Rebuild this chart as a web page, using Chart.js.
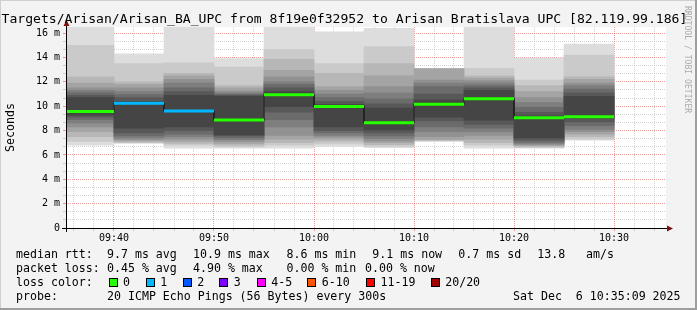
<!DOCTYPE html>
<html><head><meta charset="utf-8">
<script src="https://cdn.jsdelivr.net/npm/chart.js@4/dist/chart.umd.min.js"></script>
<style>html,body{margin:0;padding:0;background:#f3f3f3;overflow:hidden}canvas{display:block}</style>
</head><body>
<canvas id="c" width="697" height="310"></canvas>
<script>
// ---------- data ----------
const titleText = 'Targets/Arisan/Arisan_BA_UPC from 8f19e0f32952 to Arisan Bratislava UPC [82.119.99.186]';
const yAxisTitle = 'Seconds';
const watermark = 'RRDTOOL / TOBI OETIKER';
const slotStarts = ['09:35','09:40','09:45','09:50','09:55','10:00','10:05','10:10','10:15','10:20','10:25'];
const medianMs   = [9.57, 10.25, 9.6, 8.86, 10.93, 9.98, 8.64, 10.15, 10.6, 9.05, 9.13];
const lostPings  = [0, 1, 1, 0, 0, 0, 0, 0, 0, 0, 0];
// 20 sorted ping round-trip times (ms) for each 5-minute step
const ping0935 = [6.8,7.1,7.5,7.9,8.3,8.6,8.9,9.1,9.27,9.5,9.65,10.7,10.9,11.1,11.3,11.5,11.9,12.4,15.0,16.5];
const ping0940 = [6.95,7.0,7.05,7.15,7.25,7.4,7.55,7.8,8.2,10.2,10.3,10.4,10.7,10.95,11.2,11.5,11.8,12.0,13.5,14.3];
const ping0945 = [6.55,6.8,6.95,7.1,7.3,7.5,7.7,8.0,8.3,9.55,9.65,10.9,11.2,11.5,11.9,12.2,12.5,12.7,13.55,16.6];
const ping0950 = [6.55,6.65,6.8,6.95,7.1,7.25,7.4,7.55,7.65,8.8,8.92,10.8,10.9,11.0,11.1,11.25,11.5,11.7,13.2,13.9];
const ping0955 = [6.55,6.8,7.0,7.3,7.6,8.3,8.9,9.5,9.95,10.9,10.96,11.2,11.5,11.8,12.0,12.4,12.95,13.85,14.65,16.6];
const ping1000 = [6.7,6.9,7.1,7.3,7.45,7.6,7.8,8.0,8.3,9.95,10.0,10.15,10.4,10.7,11.0,11.3,11.6,12.7,13.5,16.1];
const ping1005 = [6.6,6.7,6.85,7.0,7.15,7.35,7.55,7.8,8.05,8.6,8.68,9.85,10.2,10.6,11.1,11.6,12.5,13.5,14.9,16.4];
const ping1010 = [7.1,7.15,7.2,7.25,7.5,7.9,8.3,8.8,9.1,10.1,10.2,10.5,11.0,11.6,11.9,12.15,13.05,13.1,13.1,13.1];
const ping1015 = [6.55,6.8,7.0,7.3,7.6,7.9,8.2,8.5,8.85,10.55,10.65,11.3,11.5,11.7,11.9,12.1,12.3,12.5,13.1,16.5];
const ping1020 = [6.55,6.6,6.7,6.75,6.85,6.95,7.05,7.2,7.4,9.0,9.1,9.2,9.5,9.9,10.3,10.7,11.2,11.7,12.15,13.95];
const ping1025 = [7.2,7.3,7.5,7.7,7.9,8.1,8.4,8.7,9.0,9.1,9.15,10.8,11.1,11.4,11.7,11.9,12.2,12.4,14.2,15.1];
const pingSlots = [ping0935,ping0940,ping0945,ping0950,ping0955,ping1000,ping1005,ping1010,ping1015,ping1020,ping1025];
const xTickLabels = ['09:40','09:50','10:00','10:10','10:20','10:30'];
const yTickLabels = ['0','2 m','4 m','6 m','8 m','10 m','12 m','14 m','16 m'];
const rttLabel = 'median rtt:';
const rttStats = ['9.7 ms avg','10.9 ms max','8.6 ms min','9.1 ms now','0.7 ms sd','13.8','am/s'];
const lossLabel = 'packet loss:';
const lossStats = ['0.45 % avg','4.90 % max','0.00 % min','0.00 % now'];
const colorLabel = 'loss color:';
const lossLabels = ['0','1','2','3','4-5','6-10','11-19','20/20'];
const lossColors = ['#26ff00','#00b8ff','#0059ff','#7e00ff','#ff00ff','#ff5500','#ff0000','#a10000'];
const probeLabel = 'probe:';
const probeText = '20 ICMP Echo Pings (56 Bytes) every 300s';
const stampText = 'Sat Dec  6 10:35:09 2025';

// ---------- helpers ----------
const MONO = '"DejaVu Sans Mono", monospace';
const toMin = s => { const [h, m] = s.split(':').map(Number); return (h - 9) * 60 + m; };
const lossClass = n => {
  for (let i = 0; i < lossLabels.length; i++) {
    const parts = lossLabels[i].split(/[-\/]/).map(Number);
    const lo = parts[0], hi = lossLabels[i].includes('-') ? parts[1] : parts[0];
    if (n >= lo && n <= hi) return i;
  }
  return 0;
};
const STEP = 5;
const majorX = xTickLabels.map(toMin);
const RED = 'rgba(222,60,60,0.5)';
const GRAY = 'rgba(140,140,140,0.38)';
const isMajorX = v => majorX.some(m => Math.abs(m - v) < 1e-6);
const xGridColor = c => (c && c.tick && isMajorX(c.tick.value)) ? RED : GRAY;
const yGridColor = c => (c && c.tick && typeof c.index === 'number' && c.index % 3 === 0) ? RED : GRAY;

// ---------- datasets ----------
const datasets = [];
const medPts = [];
slotStarts.forEach((s, k) => {
  medPts.push({x: toMin(s), y: medianMs[k]});
  medPts.push({x: toMin(s) + STEP, y: medianMs[k]});
});
datasets.push({
  type: 'line', order: 0, data: medPts, borderWidth: 3, pointRadius: 0, tension: 0,
  borderColor: lossColors[0], borderCapStyle: 'butt',
  segment: { borderColor: c => (c.p0DataIndex % 2 === 0) ? lossColors[lossClass(lostPings[c.p0DataIndex >> 1])] : 'rgba(0,0,0,0)' }
});
datasets.push({
  type: 'line', order: 1, data: medPts, borderWidth: 1, pointRadius: 0, tension: 0, borderColor: '#202020'
});
const half = 10;
for (let i = half; i >= 1; i--) {
  const g = Math.floor(190 / half * (half - i)) + 50;
  datasets.push({
    type: 'bar', order: 2 + (half - i), grouped: false, barThickness: 50, borderWidth: 0,
    backgroundColor: `rgb(${g},${g},${g})`,
    data: pingSlots.map((p, k) => ({x: toMin(slotStarts[k]) + STEP / 2, y: [p[i - 1], p[20 - i]]}))
  });
}

// ---------- decoration plugin ----------
const decor = {
  id: 'decor',
  beforeDraw(chart) {
    const {ctx, chartArea: a, width: W, height: H} = chart;
    ctx.save();
    ctx.fillStyle = '#f3f3f3'; ctx.fillRect(0, 0, W, H);
    ctx.fillStyle = '#cfcfcf'; ctx.fillRect(0, 0, W, 1); ctx.fillRect(0, 0, 1, H);
    ctx.fillStyle = '#9e9e9e'; ctx.fillRect(0, H - 2, W, 2); ctx.fillRect(W - 2, 0, 2, H);
    ctx.fillStyle = '#ffffff'; ctx.fillRect(a.left, a.top, a.right - a.left, a.bottom - a.top);
    ctx.restore();
  },
  afterDraw(chart) {
    const {ctx, chartArea: a} = chart;
    ctx.save();
    // axes
    ctx.strokeStyle = '#000'; ctx.lineWidth = 1;
    ctx.beginPath();
    ctx.moveTo(62, a.bottom + 0.5); ctx.lineTo(a.right + 2, a.bottom + 0.5);
    ctx.moveTo(a.left + 0.5, a.bottom + 4); ctx.lineTo(a.left + 0.5, a.top - 2);
    ctx.stroke();
    ctx.fillStyle = '#7f1010';
    ctx.beginPath();
    ctx.moveTo(a.left + 0.5, a.top - 7); ctx.lineTo(a.left - 2.5, a.top - 1); ctx.lineTo(a.left + 3.5, a.top - 1); ctx.closePath(); ctx.fill();
    ctx.beginPath();
    ctx.moveTo(a.right + 7, a.bottom + 0.5); ctx.lineTo(a.right + 1, a.bottom - 2.5); ctx.lineTo(a.right + 1, a.bottom + 3.5); ctx.closePath(); ctx.fill();
    // title
    ctx.fillStyle = '#000';
    ctx.font = '13.1px ' + MONO; ctx.textBaseline = 'alphabetic'; ctx.textAlign = 'left';
    ctx.fillText(titleText, 1.5, 23);
    // y axis title
    ctx.save();
    ctx.translate(11, 127.5); ctx.rotate(-Math.PI / 2);
    ctx.font = '11.6px ' + MONO; ctx.textAlign = 'center'; ctx.textBaseline = 'middle';
    ctx.fillText(yAxisTitle, 0, 0);
    ctx.restore();
    // watermark
    ctx.save();
    ctx.translate(687.5, 6); ctx.rotate(Math.PI / 2);
    ctx.font = '8.1px ' + MONO; ctx.fillStyle = '#aaaaaa'; ctx.textAlign = 'left'; ctx.textBaseline = 'middle';
    ctx.fillText(watermark, 0, 0);
    ctx.restore();
    // legend
    ctx.font = '11.6px ' + MONO; ctx.fillStyle = '#000'; ctx.textBaseline = 'alphabetic';
    const rows = [258.3, 272.3, 286.3, 300.3];
    ctx.fillText(rttLabel, 16, rows[0]);
    const rttX = [107, 193, 286.5, 372.3, 458.3, 537.3, 586];
    rttStats.forEach((t, i) => ctx.fillText(t, rttX[i], rows[0]));
    ctx.fillText(lossLabel, 16, rows[1]);
    const lossX = [107, 193, 286.5, 365];
    lossStats.forEach((t, i) => ctx.fillText(t, lossX[i], rows[1]));
    ctx.fillText(colorLabel, 16, rows[2]);
    const boxX = [108.5, 145.7, 182.7, 219.3, 256.7, 307.3, 366, 430.7];
    lossLabels.forEach((t, i) => {
      const bx = Math.round(boxX[i]);
      ctx.fillStyle = lossColors[i]; ctx.fillRect(bx, 278, 9, 9);
      ctx.strokeStyle = '#000'; ctx.strokeRect(bx + 0.5, 278.5, 8, 8);
      ctx.fillStyle = '#000'; ctx.fillText(t, boxX[i] + 14.5, rows[2]);
    });
    ctx.fillText(probeLabel, 16, rows[3]);
    ctx.fillText(probeText, 107, rows[3]);
    ctx.fillText(stampText, 513, rows[3]);
    ctx.restore();
  }
};

new Chart(document.getElementById('c'), {
  type: 'bar',
  data: { datasets },
  plugins: [decor],
  options: {
    responsive: false, animation: false, devicePixelRatio: 1, events: [],
    layout: { padding: { left: 0, top: 27, right: 31, bottom: 0 } },
    plugins: { legend: { display: false }, tooltip: { enabled: false }, title: { display: false } },
    scales: {
      x: {
        type: 'linear', min: 35.2, max: 95.2, z: 1, offset: false,
        afterBuildTicks: s => { const t = []; for (let v = 36; v <= 94; v += 2) t.push({value: v}); s.ticks = t; },
        afterFit: s => { s.height = 82; s.paddingLeft = 0; s.paddingRight = 0; },
        ticks: {
          autoSkip: false, maxRotation: 0, minRotation: 0, padding: 1, color: '#000',
          font: { family: MONO, size: 10 },
          callback: v => { const i = majorX.findIndex(m => Math.abs(m - v) < 1e-6); return i >= 0 ? xTickLabels[i] : ''; }
        },
        grid: { offset: false, color: xGridColor, tickColor: xGridColor, tickLength: 3, lineWidth: 1, drawTicks: true },
        border: { display: false, dash: [1, 1] }
      },
      y: {
        type: 'linear', min: 0, max: 16.5, z: 1,
        afterBuildTicks: s => { const t = []; for (let i = 0; i <= 24; i++) t.push({value: i * 2 / 3}); s.ticks = t; },
        afterFit: s => { s.width = 66; },
        ticks: {
          autoSkip: false, padding: 3, color: '#000', font: { family: MONO, size: 10 },
          callback: (v, idx) => idx % 3 === 0 ? (yTickLabels[idx / 3] || '') : ''
        },
        grid: { color: yGridColor, tickColor: yGridColor, tickLength: 3, lineWidth: 1, drawTicks: true },
        border: { display: false, dash: [1, 1] }
      }
    }
  }
});
</script>
</body></html>
